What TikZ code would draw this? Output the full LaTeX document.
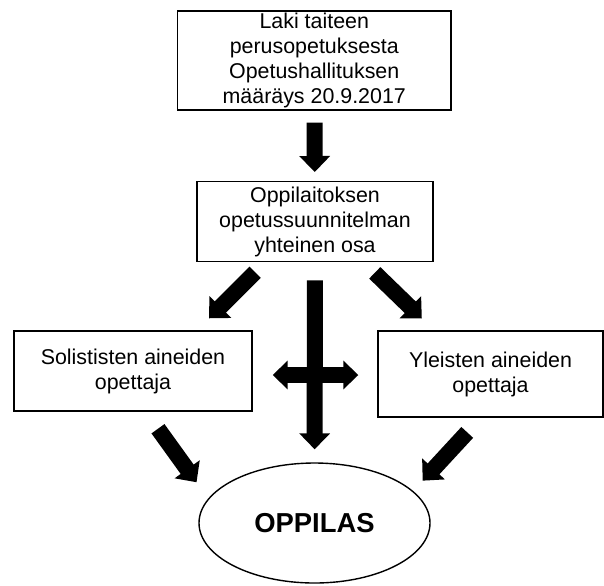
\documentclass[tikz,border=0pt]{standalone}
\usepackage{fontspec}
\setmainfont{Liberation Sans}
\usepackage{tikz}
\usetikzlibrary{calc,arrows.meta,shapes.geometric}

\begin{document}
\begin{tikzpicture}
[
	x=0.5pt, y=-0.5pt,
	box/.style = {draw, line width=0.7pt, align=center, inner sep=0pt, font=\fontsize{10.7}{12.5}\selectfont},
	fat/.style = {line width=8pt, -{Triangle[width=15pt,length=8pt]}},
	fatboth/.style = {line width=8pt, {Triangle[width=14pt,length=7.5pt]}-{Triangle[width=14pt,length=7.5pt]}},
]
\useasboundingbox (0,0) rectangle (604,585);

\node[box, minimum width=136.75pt, minimum height=49.5pt] (law) at (314.25,60.5)
	{Laki taiteen\\perusopetuksesta\\Opetushallituksen\\määräys 20.9.2017};
\node[box, minimum width=118pt, minimum height=40pt] (plan) at (315,221.7)
	{Oppilaitoksen\\opetussuunnitelman\\yhteinen osa};
\node[box, minimum width=119pt, minimum height=40pt] (solo) at (133,371)
	{Solististen aineiden\\opettaja};
\node[box, minimum width=112.5pt, minimum height=43pt] (general) at (490.5,374)
	{Yleisten aineiden\\opettaja};
\node[draw, ellipse, line width=0.7pt, inner sep=0pt, minimum width=115.5pt, minimum height=60pt,
	font=\fontsize{13.7}{16}\selectfont\bfseries] (pupil) at (314.5,523) {OPPILAS};

\draw[fat, shorten <=6pt, shorten >=4.5pt] (law) -- (plan);
\draw[fat, shorten <=7pt, shorten >=8.5pt] ($(plan.south)+(-50,0)$) -- ($(solo.north)+(64,0)$);
\draw[fat, shorten <=7.5pt, shorten >=8.5pt] ($(plan.south)+(49,0)$) -- ($(general.north)+(-56.5,0)$);
\draw[fatboth, shorten <=10pt, shorten >=9.5pt] ($(solo.east)+(0,4)$) -- ($(general.west)+(0,1)$);
\draw[fat, shorten <=9pt, shorten >=6.5pt] (plan) -- (pupil);
\draw[fat, shorten <=10.5pt, shorten >=10pt] ($(solo.south)+(12.7,0)$) -- (pupil.167);
\draw[fat, shorten <=10pt, shorten >=7pt] ($(general.south)+(-9.7,0)$) -- (pupil.18);
\end{tikzpicture}
\end{document}
